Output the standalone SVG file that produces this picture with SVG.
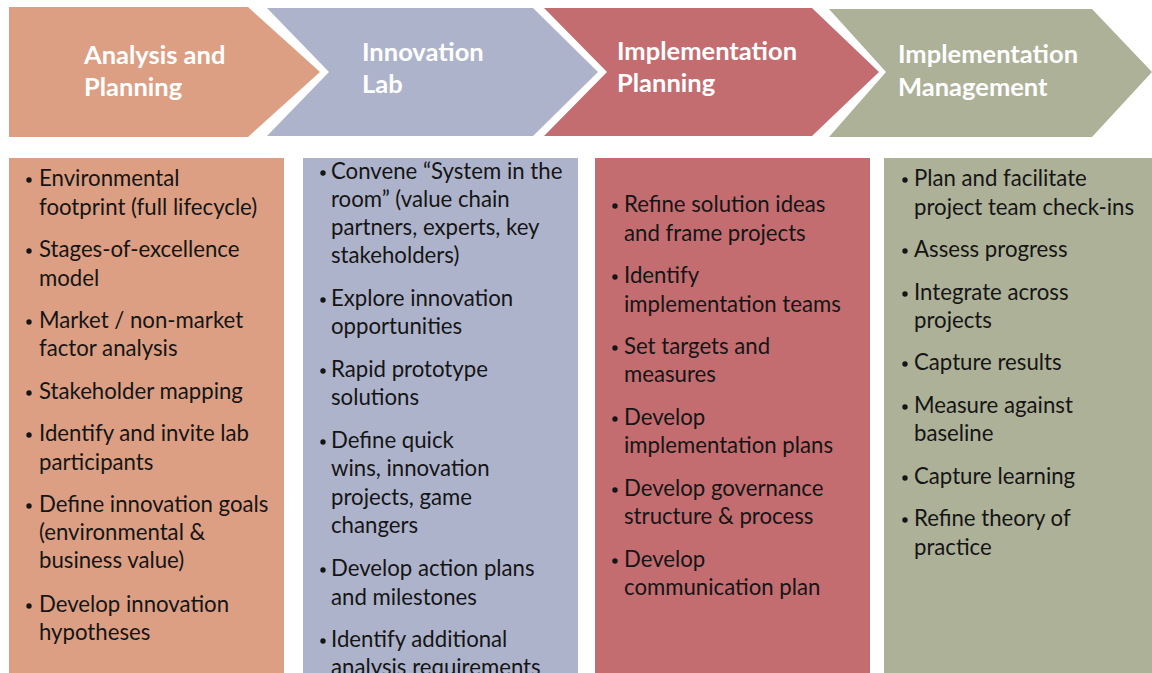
<svg xmlns="http://www.w3.org/2000/svg" width="1152" height="673" viewBox="0 0 1152 673">
<style>
.hd{font-family:Lato,"Open Sans","Liberation Sans",sans-serif;font-weight:bold;font-size:25.5px;fill:#ffffff}
.tx{font-family:Lato,"Open Sans","Liberation Sans",sans-serif;font-size:22.2px;fill:#151515}
.o{fill:#dc9f83}.b{fill:#aeb3cc}.r{fill:#c36d71}.g{fill:#adb198}
.bl{fill:#151515}
</style>
<rect width="1152" height="673" fill="#ffffff"/>
<g id="stage1">
<path class="o" d="M9,7 L248,7 L320,72 L248,137 L9,137 Z"/>
<text class="hd" x="84" y="64">Analysis and</text>
<text class="hd" x="84" y="96">Planning</text>
</g>
<g id="stage2">
<path class="b" d="M267,8 L533,8 L598,72 L533,136 L267,136 L329,72 Z"/>
<text class="hd" x="362" y="61">Innovation</text>
<text class="hd" x="362" y="93">Lab</text>
</g>
<g id="stage3">
<path class="r" d="M544,8 L812,8 L879,72 L812,136 L544,136 L607,72 Z"/>
<text class="hd" x="617" y="60">Implementation</text>
<text class="hd" x="617" y="92">Planning</text>
</g>
<g id="stage4">
<path class="g" d="M829,9 L1092,9 L1152,72 L1092,137 L829,137 L886,72 Z"/>
<text class="hd" x="898" y="63">Implementation</text>
<text class="hd" x="898" y="96">Management</text>
</g>
<g id="connectors"></g>
<g id="list1">
<rect class="o" x="9" y="158" width="275" height="515"/>
<g class="bl"><circle cx="29" cy="180" r="2.7"/><circle cx="29" cy="251" r="2.7"/><circle cx="29" cy="322" r="2.7"/><circle cx="29" cy="393" r="2.7"/><circle cx="29" cy="435" r="2.7"/><circle cx="29" cy="506" r="2.7"/><circle cx="29" cy="606" r="2.7"/></g>
<text class="tx" x="39" y="186">Environmental</text>
<text class="tx" x="39" y="215">footprint (full lifecycle)</text>
<text class="tx" x="39" y="257">Stages-of-excellence</text>
<text class="tx" x="39" y="286">model</text>
<text class="tx" x="39" y="328">Market / non-market</text>
<text class="tx" x="39" y="356">factor analysis</text>
<text class="tx" x="39" y="399">Stakeholder mapping</text>
<text class="tx" x="39" y="441">Identify and invite lab</text>
<text class="tx" x="39" y="470">participants</text>
<text class="tx" x="39" y="512">Define innovation goals</text>
<text class="tx" x="39" y="540">(environmental &amp;</text>
<text class="tx" x="39" y="568">business value)</text>
<text class="tx" x="39" y="612">Develop innovation</text>
<text class="tx" x="39" y="640">hypotheses</text>
</g>
<g id="list2">
<rect class="b" x="303" y="158" width="275" height="515"/>
<g class="bl"><circle cx="323" cy="173" r="2.7"/><circle cx="323" cy="300" r="2.7"/><circle cx="323" cy="371" r="2.7"/><circle cx="323" cy="442" r="2.7"/><circle cx="323" cy="570" r="2.7"/><circle cx="323" cy="641" r="2.7"/></g>
<text class="tx" x="331" y="179">Convene “System in the</text>
<text class="tx" x="331" y="207">room” (value chain</text>
<text class="tx" x="331" y="235">partners, experts, key</text>
<text class="tx" x="331" y="263">stakeholders)</text>
<text class="tx" x="331" y="306">Explore innovation</text>
<text class="tx" x="331" y="334">opportunities</text>
<text class="tx" x="331" y="377">Rapid prototype</text>
<text class="tx" x="331" y="405">solutions</text>
<text class="tx" x="331" y="448">Define quick</text>
<text class="tx" x="331" y="476">wins, innovation</text>
<text class="tx" x="331" y="505">projects, game</text>
<text class="tx" x="331" y="533">changers</text>
<text class="tx" x="331" y="576">Develop action plans</text>
<text class="tx" x="331" y="605">and milestones</text>
<text class="tx" x="331" y="647">Identify additional</text>
<text class="tx" x="331" y="675">analysis requirements</text>
</g>
<g id="list3">
<rect class="r" x="595" y="158" width="275" height="515"/>
<g class="bl"><circle cx="615" cy="206" r="2.7"/><circle cx="615" cy="277" r="2.7"/><circle cx="615" cy="348" r="2.7"/><circle cx="615" cy="419" r="2.7"/><circle cx="615" cy="490" r="2.7"/><circle cx="615" cy="561" r="2.7"/></g>
<text class="tx" x="624" y="212">Refine solution ideas</text>
<text class="tx" x="624" y="241">and frame projects</text>
<text class="tx" x="624" y="283">Identify</text>
<text class="tx" x="624" y="312">implementation teams</text>
<text class="tx" x="624" y="354">Set targets and</text>
<text class="tx" x="624" y="382">measures</text>
<text class="tx" x="624" y="425">Develop</text>
<text class="tx" x="624" y="453">implementation plans</text>
<text class="tx" x="624" y="496">Develop governance</text>
<text class="tx" x="624" y="524">structure &amp; process</text>
<text class="tx" x="624" y="567">Develop</text>
<text class="tx" x="624" y="595">communication plan</text>
</g>
<g id="list4">
<rect class="g" x="884" y="158" width="268" height="515"/>
<g class="bl"><circle cx="905" cy="180" r="2.7"/><circle cx="905" cy="251" r="2.7"/><circle cx="905" cy="294" r="2.7"/><circle cx="905" cy="364" r="2.7"/><circle cx="905" cy="407" r="2.7"/><circle cx="905" cy="478" r="2.7"/><circle cx="905" cy="520" r="2.7"/></g>
<text class="tx" x="914" y="186">Plan and facilitate</text>
<text class="tx" x="914" y="215">project team check-ins</text>
<text class="tx" x="914" y="257">Assess progress</text>
<text class="tx" x="914" y="300">Integrate across</text>
<text class="tx" x="914" y="328">projects</text>
<text class="tx" x="914" y="370">Capture results</text>
<text class="tx" x="914" y="413">Measure against</text>
<text class="tx" x="914" y="441">baseline</text>
<text class="tx" x="914" y="484">Capture learning</text>
<text class="tx" x="914" y="526">Refine theory of</text>
<text class="tx" x="914" y="555">practice</text>
</g>
</svg>
